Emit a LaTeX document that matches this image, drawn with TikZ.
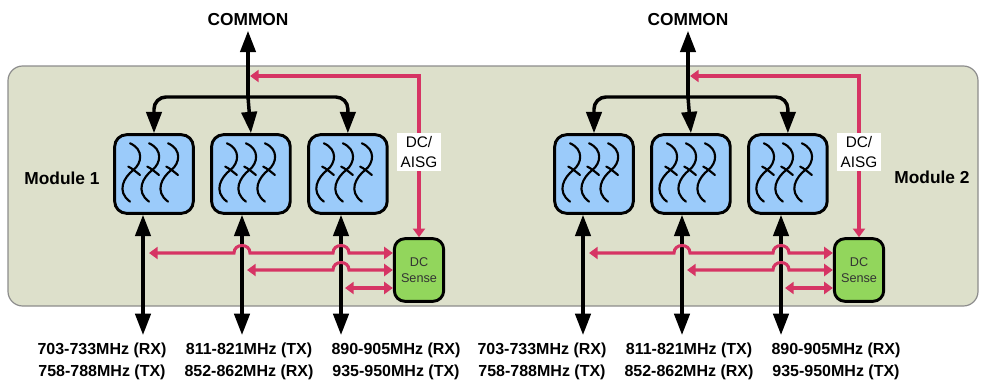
\documentclass[tikz,border=0pt]{standalone}
\usepackage{fontspec}
\setmainfont{Liberation Sans}
\usetikzlibrary{positioning, arrows.meta}

\definecolor{panelfill}{RGB}{221,224,203}
\definecolor{filterblue}{RGB}{155,203,250}
\definecolor{sensegreen}{RGB}{146,214,92}
\definecolor{dcred}{RGB}{214,52,100}

\tikzset{
  bigtip/.tip={Triangle[length=16pt,width=11.5pt]},
  redtip/.tip={Triangle[length=6.5pt,width=9pt]},
  panel/.style={draw=black!45, fill=panelfill, line width=0.9pt, rounded corners=11pt},
  filterbox/.style={draw, line width=2.2pt, fill=filterblue, rounded corners=9pt, minimum width=59pt, minimum height=59pt, inner sep=0pt},
  sensebox/.style={draw, line width=2.2pt, fill=sensegreen, rounded corners=8pt, minimum width=37pt, minimum height=47pt, inner sep=0pt, align=center, text=black!80, font=\fontsize{9.5}{12}\selectfont},
  bigarrow/.style={line width=2.6pt, -bigtip},
  redline/.style={draw=dcred, line width=2.3pt},
  dclabel/.style={fill=white, inner sep=2.5pt, align=center, font=\fontsize{11.5}{15}\selectfont},
  headlabel/.style={font=\fontsize{13}{15}\selectfont\bfseries},
  modlabel/.style={font=\fontsize{13}{15}\selectfont\bfseries},
  freq/.style={align=center, font=\fontsize{12}{16.5}\selectfont\bfseries},
  wiggles/.pic={
    \foreach \c in {-24,-5,14}{
      \begin{scope}[shift={(\c,-30.7)}, line width=1.6pt, line cap=round]
        \draw (0,0) .. controls (14,6) and (12,20) .. (3.3,26.7) .. controls (-6,34) and (-14,48) .. (0,58.3);
        \draw (-1.7,23.3) .. controls (2,25) and (6,28.5) .. (10,31.7);
      \end{scope}}
  }
}

\begin{document}
\begin{tikzpicture}[x=0.75pt, y=-0.75pt]
\useasboundingbox (0,0) rectangle (981,386);
\draw[panel] (8,66) rectangle (978,306);
\node[modlabel] (mod1) at (62,178) {Module 1};
\node[modlabel] (mod2) at (932,177) {Module 2};

\foreach \m/\dx in {1/0pt, 2/330pt}{
\begin{scope}[xshift=\dx]
  \node[filterbox]                       (f1\m) at (154,174) {};
  \node[filterbox, right=11.5pt of f1\m] (f2\m) {};
  \node[filterbox, right=11.5pt of f2\m] (f3\m) {};
  \pic at (f1\m) {wiggles};
  \pic at (f2\m) {wiggles};
  \pic at (f3\m) {wiggles};
  \node[sensebox]  (dc\m)     at (419,270) {DC\\Sense};
  \node[headlabel] (common\m) at (248,20)  {COMMON};

  \coordinate (j\m)   at (248,97);
  \coordinate (tap\m) at (250,76);
  \coordinate (p1\m)  at (143,335);
  \coordinate (p2\m)  at (242,335);
  \coordinate (p3\m)  at (341,335);
  \coordinate (ra\m)  at (149,253);
  \coordinate (rb\m)  at (247,270);
  \coordinate (rc\m)  at (345,288);

  \draw[bigarrow] (j\m) -- (common\m);
  \draw[bigarrow, rounded corners=9pt] (j\m) -| (f1\m.north);
  \draw[bigarrow] (j\m) -- (f2\m.north);
  \draw[bigarrow, rounded corners=9pt] (j\m) -| (f3\m.north);

  \draw[bigarrow, bigtip-bigtip] (p1\m |- f1\m.south) -- (p1\m);
  \draw[bigarrow, bigtip-bigtip] (p2\m |- f2\m.south) -- (p2\m);
  \draw[bigarrow, bigtip-bigtip] (p3\m |- f3\m.south) -- (p3\m);

  \draw[redline, redtip-redtip] (tap\m) -| (dc\m.north);
  \node[dclabel] (aisg\m) at (419,152) {DC/\\AISG};
  \draw[redline, redtip-redtip] (ra\m) -- (234,253) .. controls (234,243) and (250,243) .. (250,253)
    -- (333,253) .. controls (333,243) and (349,243) .. (349,253) -- (ra\m -| dc\m.west);
  \draw[redline, redtip-redtip] (rb\m) -- (333,270) .. controls (333,260) and (349,260) .. (349,270)
    -- (rb\m -| dc\m.west);
  \draw[redline, redtip-redtip] (rc\m) -- (rc\m -| dc\m.west);

  \node[freq] (b1\m) at (102,361) {703-733MHz (RX)\\758-788MHz (TX)};
  \node[freq] (b2\m) at (249,361) {811-821MHz (TX)\\852-862MHz (RX)};
  \node[freq] (b3\m) at (396,361) {890-905MHz (RX)\\935-950MHz (TX)};
\end{scope}}
\end{tikzpicture}
\end{document}
